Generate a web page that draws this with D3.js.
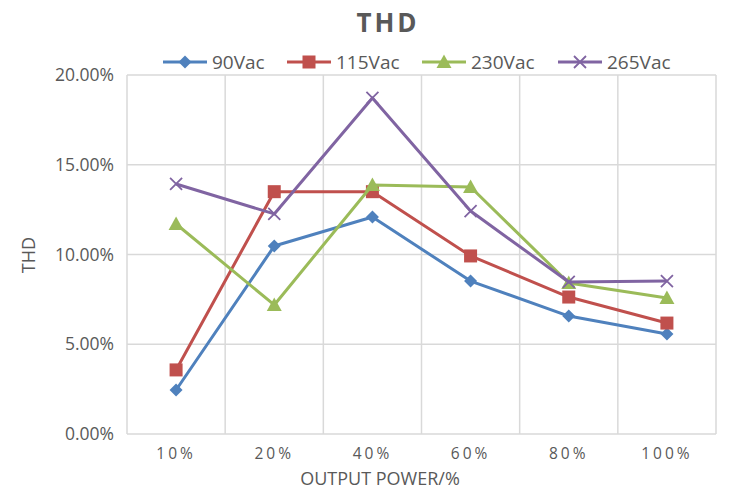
<!DOCTYPE html>
<html><head><meta charset="utf-8">
<script src="https://cdn.jsdelivr.net/npm/d3@7"></script>
<style>body{margin:0;background:#fff;}text{font-family:"Open Sans","Noto Sans",sans-serif;}</style>
</head><body><svg id="c" width="741" height="498"></svg>
<script>
const categories = ["10%","20%","40%","60%","80%","100%"];
const seriesNames = ["90Vac","115Vac","230Vac","265Vac"];
const v90 = [2.45, 10.47, 12.09, 8.52, 6.57, 5.57];
const v115 = [3.57, 13.5, 13.5, 9.92, 7.63, 6.18];
const v230 = [11.7, 7.19, 13.87, 13.76, 8.41, 7.58];
const v265 = [13.93, 12.26, 18.72, 12.42, 8.47, 8.52];
const yTicks = [0, 5, 10, 15, 20];
const colors = ["#4F81BD","#C0504D","#9BBB59","#8064A2"];
const symbols = ["diamond","square","triangle","x"];
const allSeries = [v90, v115, v230, v265];

const svg = d3.select("#c");
const L = 127, R = 716, T = 75, B = 434;
const x = d3.scaleBand().domain(categories).range([L, R]);
const y = d3.scaleLinear().domain([0, 20]).range([B, T]);
const grid = "#d9d9d9", txt = "#595959";

svg.append("g").selectAll("line").data(yTicks).join("line")
  .attr("x1", L).attr("x2", R).attr("y1", d => y(d)).attr("y2", d => y(d))
  .attr("stroke", grid).attr("stroke-width", 1.5);
const vx = categories.map(c => x(c)).concat([R]);
svg.append("g").selectAll("line").data(vx).join("line")
  .attr("x1", d => d).attr("x2", d => d).attr("y1", T).attr("y2", B)
  .attr("stroke", grid).attr("stroke-width", 1.5);

const yAxis = d3.axisLeft(y).tickValues(yTicks).tickSize(0).tickPadding(13)
  .tickFormat(d => d.toFixed(2) + "%");
const gy = svg.append("g").attr("transform", `translate(${L},0)`).call(yAxis);
gy.select(".domain").remove();
gy.selectAll("text").attr("fill", txt).style("font-size", "17.5px").style("font-family", "'Open Sans','Noto Sans',sans-serif");

const xAxis = d3.axisBottom(x).tickSize(0).tickPadding(14);
const gx = svg.append("g").attr("transform", `translate(0,${B})`).call(xAxis);
gx.select(".domain").remove();
gx.selectAll("text").attr("fill", txt).style("font-size", "15.5px").style("letter-spacing", "3px")
  .style("font-family", "'Open Sans','Noto Sans',sans-serif");

svg.append("text").attr("x", 388).attr("y", 32).attr("text-anchor", "middle")
  .attr("fill", txt).style("font-size", "26px").style("font-weight", "bold").style("letter-spacing", "3px").text("THD");
svg.append("text").attr("x", 380).attr("y", 485).attr("text-anchor", "middle")
  .attr("fill", txt).style("font-size", "18px").text("OUTPUT POWER/%");
svg.append("text").attr("transform", "translate(35,255) rotate(-90)").attr("text-anchor", "middle")
  .attr("fill", txt).style("font-size", "18px").text("THD");

const cx = c => x(c) + x.bandwidth() / 2;
const line = d3.line().x((d, i) => cx(categories[i])).y(d => y(d));

function drawMarker(g, sym, px, py, color) {
  if (sym === "diamond") {
    g.append("path").attr("d", `M${px},${py-6.5}L${px+6.5},${py}L${px},${py+6.5}L${px-6.5},${py}Z`).attr("fill", color);
  } else if (sym === "square") {
    g.append("rect").attr("x", px-6.5).attr("y", py-6.5).attr("width", 13).attr("height", 13).attr("fill", color);
  } else if (sym === "triangle") {
    g.append("path").attr("d", `M${px},${py-7.5}L${px+7.5},${py+6}L${px-7.5},${py+6}Z`).attr("fill", color);
  } else {
    g.append("path").attr("d", `M${px-6},${py-6}L${px+6},${py+6}M${px+6},${py-6}L${px-6},${py+6}`)
      .attr("stroke", color).attr("stroke-width", 1.8).attr("fill", "none");
  }
}

allSeries.forEach((s, k) => {
  const g = svg.append("g");
  g.append("path").datum(s).attr("d", line).attr("fill", "none")
    .attr("stroke", colors[k]).attr("stroke-width", 3).attr("stroke-linejoin", "round");
  s.forEach((d, i) => drawMarker(g, symbols[k], cx(categories[i]), y(d), colors[k]));
});

const legX = [163, 287, 422, 558];
seriesNames.forEach((n, k) => {
  const g = svg.append("g");
  const lx = legX[k], ly = 62;
  g.append("line").attr("x1", lx).attr("x2", lx + 44).attr("y1", ly).attr("y2", ly)
    .attr("stroke", colors[k]).attr("stroke-width", 3);
  drawMarker(g, symbols[k], lx + 22, ly, colors[k]);
  g.append("text").attr("x", lx + 49).attr("y", ly + 6.5).attr("fill", txt)
    .style("font-size", "19px").text(n);
});
</script></body></html>
